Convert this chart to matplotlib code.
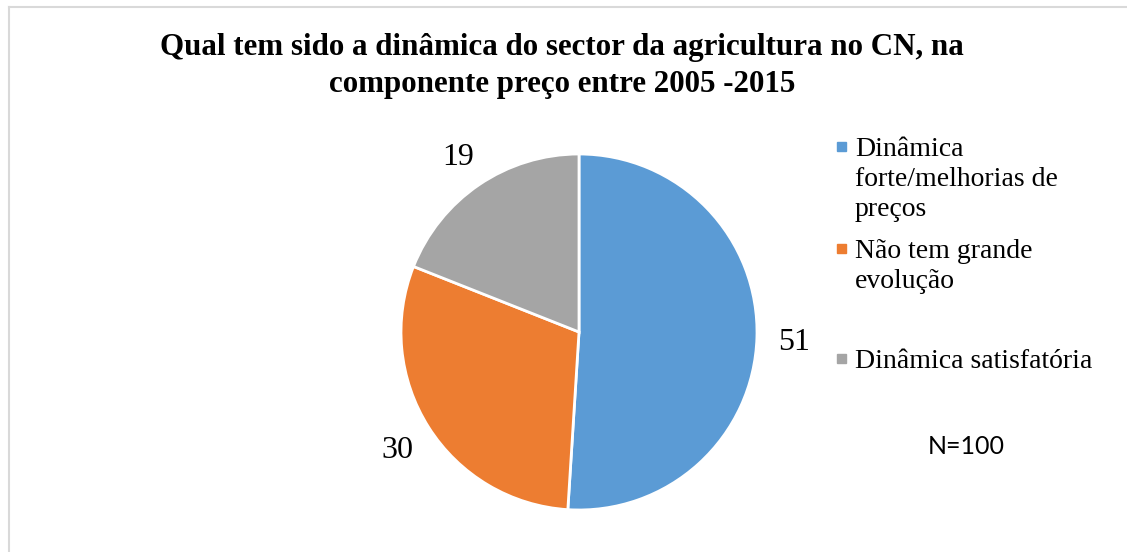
import numpy as np
import matplotlib
matplotlib.use("Agg")
import matplotlib.pyplot as plt
from matplotlib.patches import Rectangle
from matplotlib.lines import Line2D

TITLE = "Qual tem sido a dinâmica do sector da agricultura no CN, na\ncomponente preço entre 2005 -2015"
categories = ["Dinâmica\nforte/melhorias de\npreços", "Não tem grande\nevolução", "Dinâmica satisfatória"]
values = [51, 30, 19]
colors = ["#5B9BD5", "#ED7D31", "#A5A5A5"]
note = "N=100"

W, H = 1127, 552
fig = plt.figure(figsize=(W / 100, H / 100), dpi=100)
fig.patch.set_facecolor("white")

# light frame (top and left edges visible)
fig.add_artist(Line2D([8.5 / W, 1.0], [1 - 6.5 / H, 1 - 6.5 / H], color="#D9D9D9", lw=1.5))
fig.add_artist(Line2D([8.5 / W, 8.5 / W], [0, 1 - 6.5 / H], color="#D9D9D9", lw=1.5))

# pie axes: centre (579, 332), radius 178 px
cx, cy, R = 579, 332, 178
half = 200
ax = fig.add_axes([(cx - half) / W, 1 - (cy + half) / H, 2 * half / W, 2 * half / H])
wedges, _ = ax.pie(values, colors=colors, startangle=90, counterclock=False,
                   wedgeprops=dict(edgecolor="white", linewidth=2))
lim = half / R
ax.set_xlim(-lim, lim)
ax.set_ylim(-lim, lim)
ax.set_aspect("equal")
ax.axis("off")

for w, v in zip(wedges, values):
    ang = np.deg2rad((w.theta1 + w.theta2) / 2)
    ax.text(1.21 * np.cos(ang), 1.21 * np.sin(ang), str(v), ha="center", va="center_baseline",
            fontsize=23, family="Liberation Serif", color="black")

fig.text(562 / W, 1 - 66 / H, TITLE, ha="center", va="center", fontsize=22.3,
         fontweight="bold", family="Liberation Serif", linespacing=1.38)

# legend drawn by hand to match spacing
leg_y = [146.5, 248, 358]
for lab, col, y in zip(categories, colors, leg_y):
    fig.add_artist(Rectangle((837 / W, 1 - (y + 4.5) / H), 9 / W, 9 / H, color=col,
                             transform=fig.transFigure))
    for i, line in enumerate(lab.split("\n")):
        fig.text(855 / W, 1 - (y + 10 + 30 * i) / H, line, ha="left", va="baseline",
                 fontsize=20, family="Liberation Serif")

fig.text(928 / W, 1 - 447 / H, note, ha="left", va="center", fontsize=18, family="Lato")

fig.savefig("out.png", dpi=100)
